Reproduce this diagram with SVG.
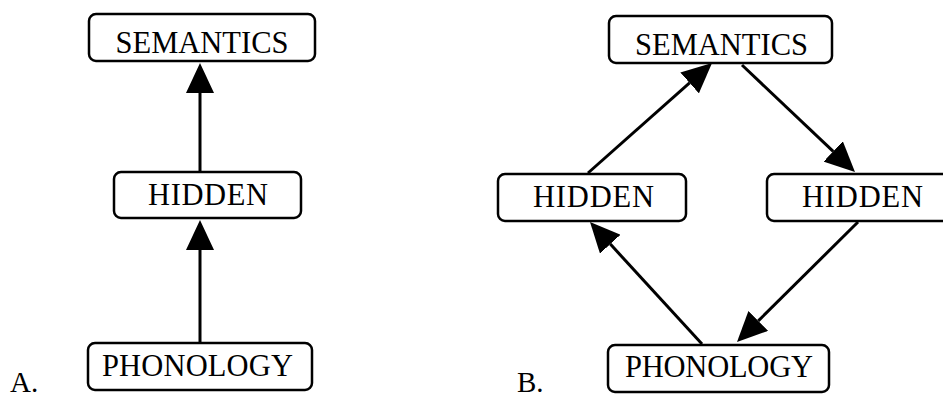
<svg xmlns="http://www.w3.org/2000/svg" width="943" height="399" viewBox="0 0 943 399">
  <style>
    .box { fill: #ffffff; stroke: #000000; stroke-width: 2.5; }
    .lbl { font-family: "Liberation Serif", "DejaVu Serif", serif; font-size: 30.5px; fill: #000000; text-anchor: middle; }
    .tag { font-family: "Liberation Serif", "DejaVu Serif", serif; font-size: 29px; fill: #000000; }
    .edge { stroke: #000000; stroke-width: 3; fill: none; marker-end: url(#head); }
  </style>
  <defs>
    <marker id="head" markerUnits="userSpaceOnUse" markerWidth="30" markerHeight="28" viewBox="0 0 30 28" refX="0" refY="14" orient="auto">
      <path d="M0,0 L30,14 L0,28 Z" fill="#000000"/>
    </marker>
  </defs>

  <!-- connectors -->
  <g id="edges">
    <!-- panel A -->
    <line class="edge" x1="200" y1="171" x2="200" y2="93"/>
    <line class="edge" x1="200" y1="342" x2="200" y2="250"/>
    <!-- panel B -->
    <line class="edge" x1="588" y1="173" x2="689.6" y2="82.9"/>
    <line class="edge" x1="742" y1="65" x2="833.2" y2="151.4"/>
    <line class="edge" x1="858" y1="222" x2="758.3" y2="320.9"/>
    <line class="edge" x1="702" y1="344" x2="610.3" y2="244.1"/>
  </g>

  <!-- panel A nodes -->
  <g id="a-semantics">
    <rect class="box" x="89" y="14" width="226" height="47" rx="7"/>
    <text class="lbl" x="202" y="53" textLength="173">SEMANTICS</text>
  </g>
  <g id="a-hidden">
    <rect class="box" x="114" y="172" width="187" height="46" rx="7"/>
    <text class="lbl" x="208" y="205" textLength="120">HIDDEN</text>
  </g>
  <g id="a-phonology">
    <rect class="box" x="88" y="343" width="224" height="47" rx="7"/>
    <text class="lbl" x="197.5" y="376" textLength="191">PHONOLOGY</text>
  </g>
  <text class="tag" x="10" y="392">A.</text>

  <!-- panel B nodes -->
  <g id="b-semantics">
    <rect class="box" x="609" y="16" width="223" height="47" rx="7"/>
    <text class="lbl" x="721.5" y="55" textLength="173">SEMANTICS</text>
  </g>
  <g id="b-hidden-left">
    <rect class="box" x="498" y="174" width="188" height="47" rx="7"/>
    <text class="lbl" x="593.5" y="207" textLength="121">HIDDEN</text>
  </g>
  <g id="b-hidden-right">
    <rect class="box" x="767" y="174" width="188" height="47" rx="7"/>
    <text class="lbl" x="862.5" y="207" textLength="121">HIDDEN</text>
  </g>
  <g id="b-phonology">
    <rect class="box" x="608" y="345" width="221" height="47" rx="7"/>
    <text class="lbl" x="719" y="377" textLength="188">PHONOLOGY</text>
  </g>
  <text class="tag" x="517" y="392">B.</text>
</svg>
